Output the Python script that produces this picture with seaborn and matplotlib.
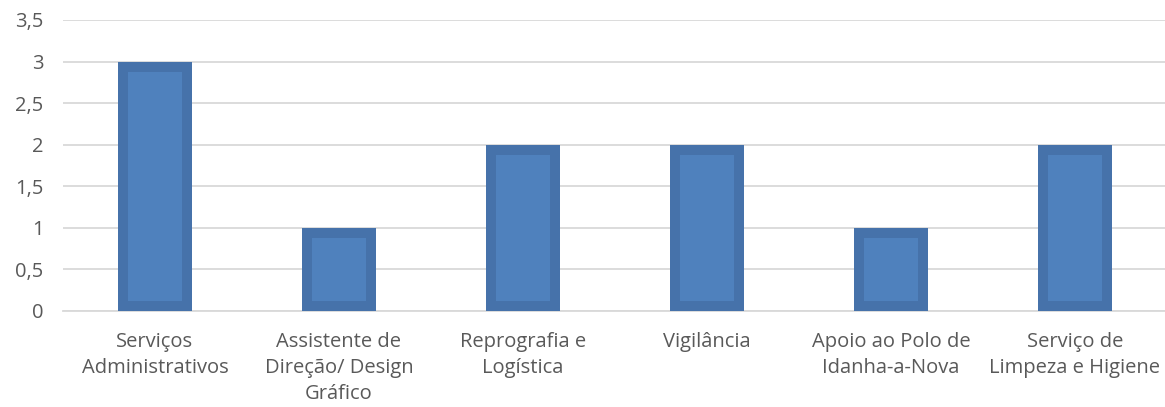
import pandas as pd
import seaborn as sns
import matplotlib.pyplot as plt

categories = [
    'Serviços\nAdministrativos',
    'Assistente de\nDireção/ Design\nGráfico',
    'Reprografia e\nLogística',
    'Vigilância',
    'Apoio ao Polo de\nIdanha-a-Nova',
    'Serviço de\nLimpeza e Higiene',
]
values = [3, 1, 2, 2, 1, 2]
y_ticks = [0, 0.5, 1, 1.5, 2, 2.5, 3, 3.5]
y_labels = ['0', '0,5', '1', '1,5', '2', '2,5', '3', '3,5']

df = pd.DataFrame({'categoria': categories, 'valor': values})

sns.set_theme(style='white')
plt.rcParams['font.family'] = ['Open Sans', 'DejaVu Sans']

text_color = '#595959'
fig = plt.figure(figsize=(11.65, 4.07), dpi=100)
ax = fig.add_axes([63 / 1165, 96 / 407, 1104 / 1165, 291 / 407])

sns.barplot(data=df, x='categoria', y='valor', color='#4F81BD', width=0.4,
            saturation=1, ax=ax, zorder=3)

# dark inner border like the original (clipped so it stays inside the bar)
for p in ax.patches:
    p.set_edgecolor('#4672AA')
    p.set_linewidth(14.4)
    p.set_clip_path(p)

ax.set_ylim(0, 3.5)
ax.set_yticks(y_ticks)
ax.set_yticklabels(y_labels)
ax.yaxis.grid(True, color='#D9D9D9', linewidth=1.3, zorder=0)
ax.set_axisbelow(True)

for s in ['top', 'right', 'left']:
    ax.spines[s].set_visible(False)
ax.spines['bottom'].set_color('#D9D9D9')
ax.spines['bottom'].set_linewidth(1.3)

ax.tick_params(axis='y', length=0, pad=14, labelsize=14.5, labelcolor=text_color)
ax.tick_params(axis='x', length=0, pad=15, labelsize=14.5, labelcolor=text_color)
for lbl in ax.get_xticklabels():
    lbl.set_linespacing(1.4)
ax.set_xlabel('')
ax.set_ylabel('')

plt.savefig('out.png', dpi=100)
